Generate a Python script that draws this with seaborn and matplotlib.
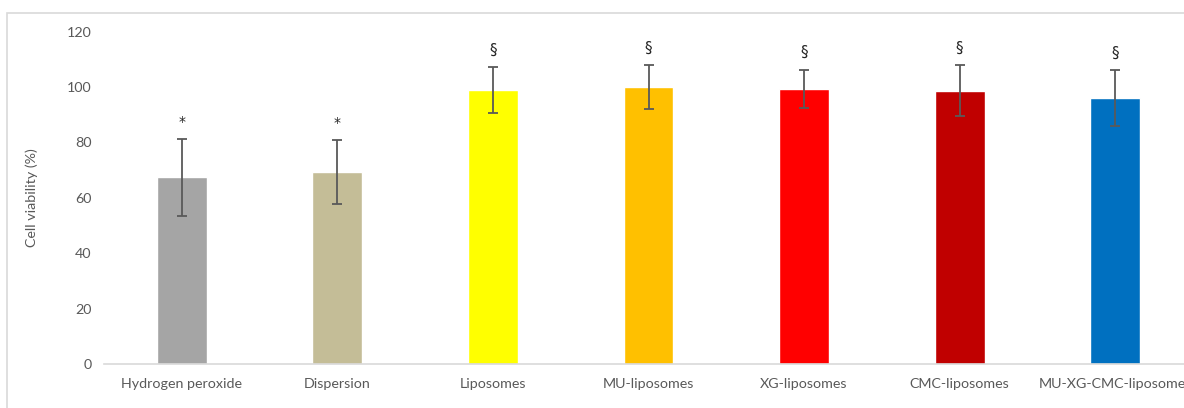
import matplotlib
matplotlib.use("Agg")
import matplotlib.pyplot as plt
import seaborn as sns
import pandas as pd
from matplotlib.patches import Rectangle

# Cell viability per formulation (mean ± SD)
groups = ["Hydrogen peroxide", "Dispersion", "Liposomes", "MU-liposomes",
          "XG-liposomes", "CMC-liposomes", "MU-XG-CMC-liposomes"]
viability = [67.5, 69.3, 99.0, 100.0, 99.3, 98.7, 96.0]
sd = [13.9, 11.6, 8.2, 7.8, 7.0, 9.1, 10.1]
marks = ["*", "*", "§", "§", "§", "§", "§"]
colors = ["#A5A5A5", "#C4BD97", "#FFFF00", "#FFC000", "#FF0000", "#C00000", "#0070C0"]
y_ticks = [0, 20, 40, 60, 80, 100, 120]

sns.set_theme(style="white")
plt.rcParams["font.family"] = ["Lato", "DejaVu Sans"]

W, H, DPI = 1184, 408, 100
fig = plt.figure(figsize=(W / DPI, H / DPI), dpi=DPI)

# light frame around the chart area
fig.patches.append(Rectangle((7 / W, -0.05), 1.1, (H - 13) / H + 0.05,
                             transform=fig.transFigure, fill=False,
                             edgecolor="#D9D9D9", linewidth=1.2))

ax = fig.add_axes([104 / W, 44 / H, (1193 - 104) / W, (363.3 - 31) / H])

df = pd.DataFrame({"group": groups, "viability": viability})
sns.barplot(data=df, x="group", y="viability", hue="group", palette=colors,
            order=groups, hue_order=groups, dodge=False, legend=False,
            errorbar=None, width=0.32, saturation=1, ax=ax)

xpos = list(range(len(groups)))
ax.errorbar(xpos, viability, yerr=sd, fmt="none", ecolor="#595959",
            elinewidth=1.3, capsize=3.5, capthick=1.3, zorder=5)

# significance symbols above each error bar
for x, v, s, m in zip(xpos, viability, sd, marks):
    ax.annotate(m, (x, v + s), xytext=(0, 12.3), textcoords="offset points",
                ha="center", va="center", fontsize=11 if m == "§" else 10,
                family=["DejaVu Sans"], color="#262626")

ax.set_xlim(-0.5, len(groups) - 0.5)
ax.set_ylim(0, 120)
ax.set_yticks(y_ticks)
ax.set_yticklabels([str(t) for t in y_ticks])
ax.tick_params(axis="both", length=0, labelsize=10.3, labelcolor="#595959")
ax.tick_params(axis="y", pad=9)
ax.tick_params(axis="x", pad=10)
ax.set_xlabel("")
ax.set_ylabel("Cell viability (%)", fontsize=10.3, color="#595959", labelpad=21)

for side in ["top", "right", "left"]:
    ax.spines[side].set_visible(False)
ax.spines["bottom"].set_color("#D9D9D9")
ax.spines["bottom"].set_linewidth(1.2)
ax.set_facecolor("none")

fig.savefig("out.png", dpi=DPI)
